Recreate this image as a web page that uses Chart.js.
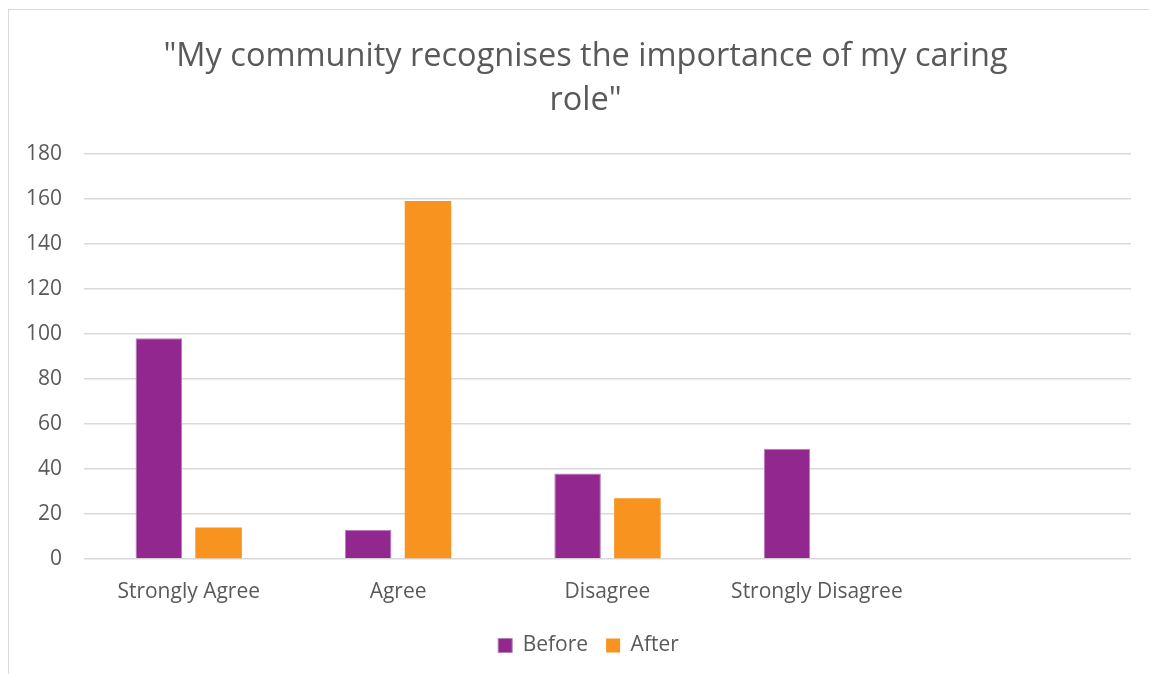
<!DOCTYPE html>
<html lang="en">
<head>
  <meta charset="UTF-8">
  <title>My community recognises the importance of my caring role</title>
  <script src="https://cdn.jsdelivr.net/npm/chart.js"></script>
  <style>
    html, body { margin: 0; padding: 0; background: #fff; }
    #frame {
      position: absolute; left: 8px; top: 9px; right: 0; bottom: 0;
      border-left: 1px solid #d9d9d9; border-top: 1px solid #d9d9d9;
    }
    #wrap { position: absolute; left: 0; top: 0; width: 1149px; height: 674px; }
  </style>
</head>
<body>
  <div id="frame"></div>
  <div id="wrap"><canvas id="chart" width="1149" height="674"></canvas></div>
  <script>
    const categories = ['Strongly Agree', 'Agree', 'Disagree', 'Strongly Disagree', ''];
    const before = [98, 13, 38, 49, null];
    const after = [14, 159, 27, 0, null];
    const yTicks = [0, 20, 40, 60, 80, 100, 120, 140, 160, 180];

    const textColor = '#595959';
    const gridColor = '#d9d9d9';
    const fontFamily = '"Open Sans", sans-serif';

    // title and legend sit a little right of the plot centre
    const shiftBlocks = {
      id: 'shiftBlocks',
      afterLayout(chart) {
        if (chart.titleBlock) {
          chart.titleBlock.left += 20;
          chart.titleBlock.right += 20;
        }
        if (chart.legend) {
          chart.legend.left += 23;
          chart.legend.right += 23;
        }
      }
    };

    new Chart(document.getElementById('chart'), {
      type: 'bar',
      data: {
        labels: categories,
        datasets: [
          {
            label: 'Before',
            data: before,
            backgroundColor: '#92278f',
            borderColor: '#b77db5',
            borderWidth: 1,
            categoryPercentage: 0.571,
            barPercentage: 0.778
          },
          {
            label: 'After',
            data: after,
            backgroundColor: '#f7931e',
            borderWidth: 0,
            categoryPercentage: 0.571,
            barPercentage: 0.778
          }
        ]
      },
      options: {
        responsive: false,
        animation: false,
        layout: { padding: { left: 0, right: 18, top: 0, bottom: 8 } },
        scales: {
          x: {
            grid: { display: false, drawTicks: false },
            border: { display: false },
            afterFit: scale => { scale.height = 58; },
            ticks: {
              color: textColor,
              font: { family: fontFamily, size: 21 },
              padding: 20,
              maxRotation: 0,
              autoSkip: false
            }
          },
          y: {
            min: 0,
            max: 180,
            afterBuildTicks: scale => { scale.ticks = yTicks.map(v => ({ value: v })); },
            afterFit: scale => { scale.width = 84; },
            grid: { color: gridColor, lineWidth: 1.5, drawTicks: false },
            border: { display: false },
            ticks: {
              color: textColor,
              font: { family: fontFamily, size: 21 },
              padding: 22
            }
          }
        },
        plugins: {
          title: {
            display: true,
            text: ['"My community recognises the importance of my caring', 'role"'],
            color: textColor,
            font: { family: fontFamily, size: 32.5, weight: 'normal', lineHeight: 1.35 },
            padding: { top: 35, bottom: 31 }
          },
          legend: {
            position: 'bottom',
            labels: {
              color: textColor,
              font: { family: fontFamily, size: 21 },
              boxWidth: 14,
              boxHeight: 14,
              padding: 18
            }
          },
          tooltip: { enabled: false }
        }
      },
      plugins: [shiftBlocks]
    });
  </script>
</body>
</html>
